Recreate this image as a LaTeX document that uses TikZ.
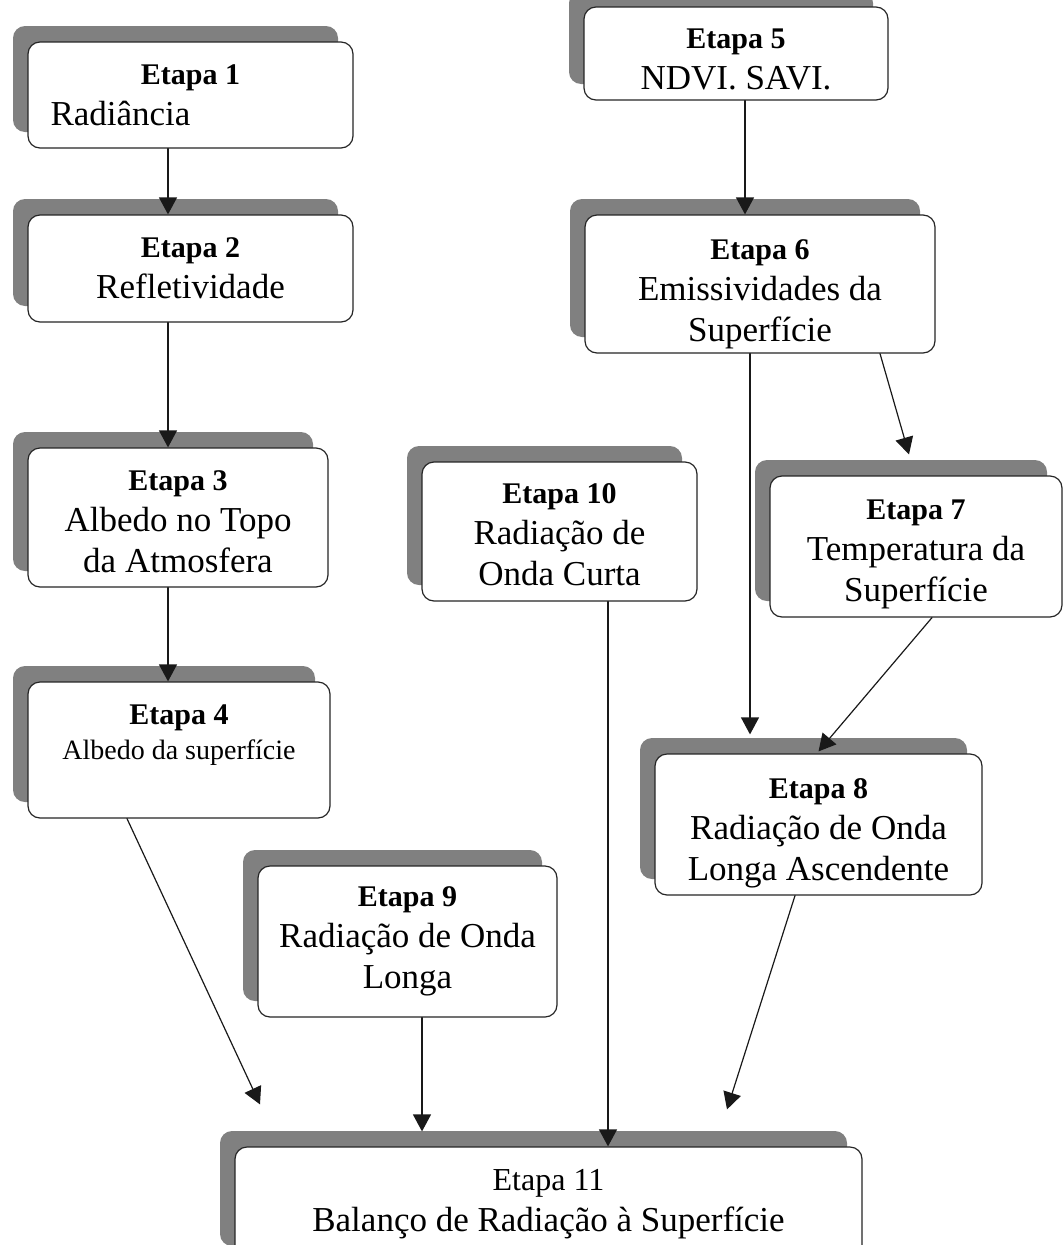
\documentclass[tikz,border=0pt]{standalone}
\usepackage{fontspec}
\setmainfont{Liberation Serif}
\usetikzlibrary{arrows.meta,shadows}
\definecolor{shadowgray}{RGB}{128,128,128}
\newcommand{\etapa}[1]{{\fontsize{30}{41}\selectfont\bfseries Etapa #1}}
\begin{document}
\begin{tikzpicture}[x=1pt,y=-1pt,line join=round,line cap=round,
 stepbox/.style={draw=black!85,line width=1.2pt,fill=white,rounded corners=12pt,align=center,inner sep=0pt,
  drop shadow={shadow xshift=-15pt,shadow yshift=16pt,fill=shadowgray,opacity=1},
  font=\fontsize{35}{41}\selectfont},
 flow/.style={-{Triangle[length=17pt,width=18pt]},line width=1.2pt,black!90}]
 \useasboundingbox (0,0) rectangle (1064,1245);
 % left column
 \node[stepbox,minimum width=325pt,minimum height=106pt] (e1) at (190.5,95) {\etapa{1}\\ Radiância\hspace*{140pt}};
 \node[stepbox,minimum width=325pt,minimum height=107pt] (e2) at (190.5,268.5) {\etapa{2}\\ Refletividade};
 \node[stepbox,minimum width=300pt,minimum height=139pt,text height=111pt] (e3) at (178,517.5) {\etapa{3}\\ Albedo no Topo\\ da Atmosfera};
 \node[stepbox,minimum width=302pt,minimum height=136pt,text depth=35pt] (e4) at (179,750) {\etapa{4}\\[-6pt] {\fontsize{28}{35}\selectfont Albedo da superfície}};
 % right column
 \node[stepbox,minimum width=304pt,minimum height=93pt,text height=72pt] (e5) at (736,53.5) {\etapa{5}\\ NDVI. SAVI.};
 \node[stepbox,minimum width=350pt,minimum height=138pt,text height=123pt] (e6) at (760,284) {\etapa{6}\\ Emissividades da\\ Superfície};
 \node[stepbox,minimum width=292pt,minimum height=141pt,text height=117pt] (e7) at (916,546.5) {\etapa{7}\\ Temperatura da\\ Superfície};
 \node[stepbox,minimum width=327pt,minimum height=141pt,text height=119pt] (e8) at (818.5,824.5) {\etapa{8}\\ Radiação de Onda\\ Longa Ascendente};
 % middle
 \node[stepbox,minimum width=275pt,minimum height=139pt,text height=109pt] (e10) at (559.5,531.5) {\etapa{10}\\ Radiação de\\ Onda Curta};
 \node[stepbox,minimum width=299pt,minimum height=151pt] (e9) at (407.5,941.5) {\etapa{9}\\ Radiação de Onda\\ Longa};
 \node[stepbox,minimum width=627pt,minimum height=115pt] (e11) at (548.5,1204.5) {{\fontsize{32}{41}\selectfont Etapa 11}\\ Balanço de Radiação à Superfície};
 % connectors
 \draw[flow] ([xshift=-22.5pt]e1.south) -- ([xshift=-22.5pt]e2.north);
 \draw[flow] ([xshift=-22.5pt]e2.south) -- ([xshift=-10pt]e3.north);
 \draw[flow] ([xshift=-10pt]e3.south) -- ([xshift=-11pt]e4.north);
 \draw[flow] ([xshift=9pt]e5.south) -- ([xshift=-15pt]e6.north);
 \draw[flow] ([xshift=-10pt]e6.south) -- ([xshift=-68.5pt,yshift=19pt]e8.north);
 \draw[flow] ([xshift=120pt]e6.south) -- ([xshift=-7pt,yshift=21pt]e7.north);
 \draw[flow] ([xshift=16pt]e7.south) -- ([yshift=2pt]e8.north);
 \draw[flow] ([xshift=-52pt]e4.south) -- ([xshift=-288.5pt,yshift=42pt]e11.north);
 \draw[flow] ([xshift=14.5pt]e9.south) -- ([xshift=-126.5pt,yshift=15pt]e11.north);
 \draw[flow] ([xshift=48.5pt]e10.south) -- ([xshift=59.5pt]e11.north);
 \draw[flow] ([xshift=-23.5pt]e8.south) -- ([xshift=178.5pt,yshift=37pt]e11.north);
\end{tikzpicture}
\end{document}
